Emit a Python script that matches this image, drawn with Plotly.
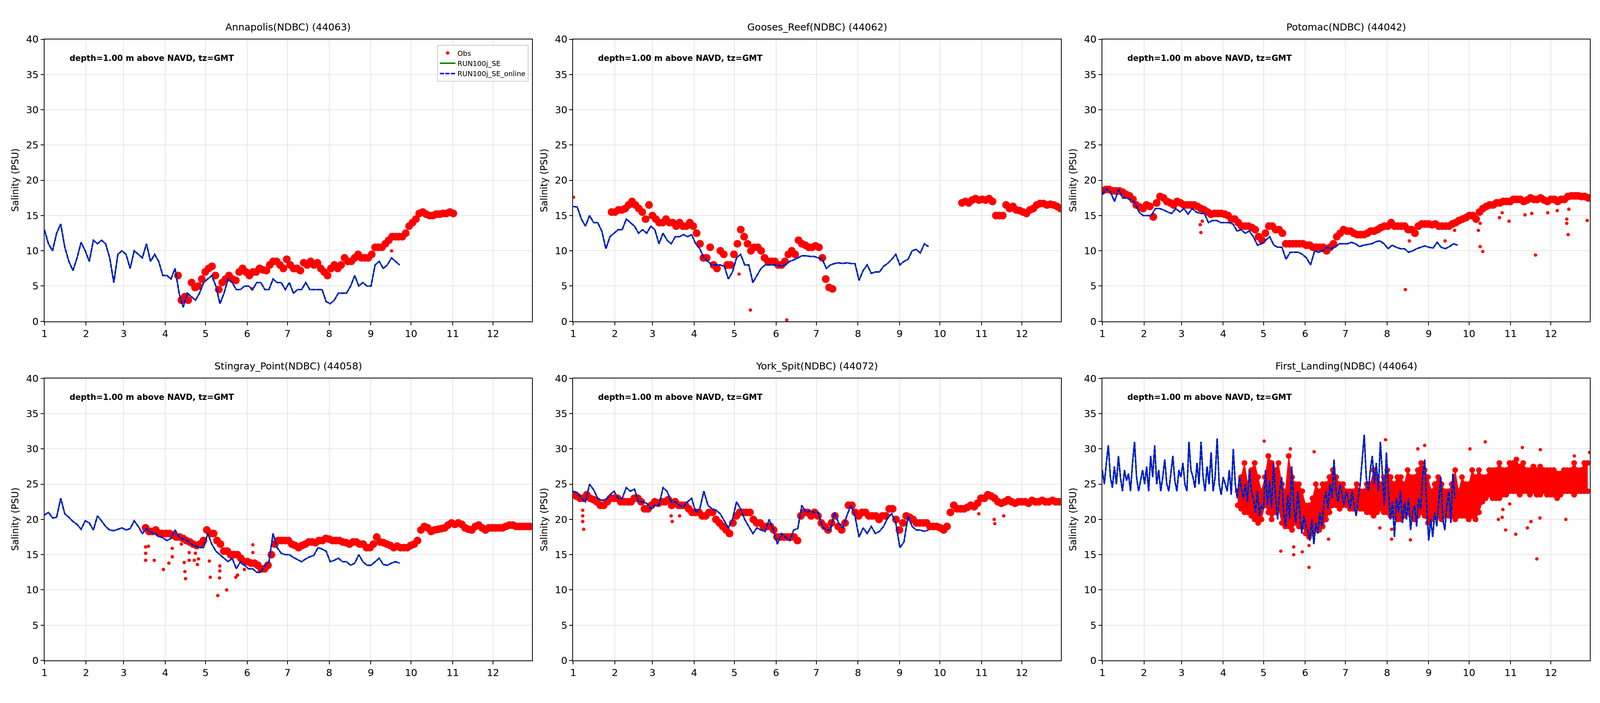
import pandas as pd
import plotly.graph_objects as go
from plotly.subplots import make_subplots

# time axis: day offsets from Jan 1, model every ~3 days, obs every ~2.5 days
YEAR_START = pd.Timestamp('2023-01-01')
MODEL_STEP = 3.04
OBS_STEP = 2.53

month_ticks = pd.date_range('2023-01-01', periods=12, freq='MS')
month_labels = [str(m) for m in range(1, 13)]

# ---------------- Annapolis(NDBC) (44063)
annapolis_se = [13.0, 11.0, 10.0, 12.5, 13.8, 10.5, 8.5, 7.2, 9.0, 11.2, 10.0,
                8.5, 11.5, 11.0, 11.5, 11.0, 9.0, 5.5, 9.5, 10.0,
                9.5, 7.5, 10.0, 9.5, 9.0, 11.0, 8.5, 9.5, 8.5, 6.5,
                6.5, 6.0, 7.5, 4.0, 2.0, 4.0, 3.5, 3.0, 4.0, 5.5,
                6.0, 6.5, 5.0, 2.5, 4.0, 6.0, 5.5, 4.5, 4.5, 5.0,
                5.0, 4.5, 5.5, 5.5, 4.5, 4.5, 6.0, 5.5, 5.5, 4.5,
                5.5, 4.0, 4.5, 4.5, 5.5, 4.5, 4.5, 4.5, 4.5, 2.8,
                2.5, 3.0, 4.0, 4.0, 4.0, 5.0, 6.5, 5.0, 5.5, 5.0,
                5.0, 8.0, 8.5, 7.5, 8.0, 9.0, 8.5, 8.0]
annapolis_online = annapolis_se  # both runs overlap at this scale
annapolis_obs_start = 99.5
annapolis_obs = [6.5, 3.0, 3.5, 3.0, 5.5, 4.8, 5.0, 6.0, 7.0, 7.5,
                 7.8, 6.5, 4.5, 5.5, 6.0, 6.5, 6.0, 5.8, 7.0, 7.5,
                 7.0, 6.5, 7.0, 7.0, 7.5, 7.3, 7.2, 8.0, 8.5, 8.5,
                 8.0, 7.5, 8.8, 8.0, 7.5, 7.5, 7.2, 8.3, 8.0, 8.5,
                 8.0, 8.3, 7.5, 7.0, 6.5, 7.5, 8.0, 7.5, 8.0, 9.0,
                 8.5, 8.5, 9.0, 9.5, 9.0, 9.0, 9.0, 9.5, 10.5, 10.5,
                 10.5, 11.0, 11.5, 12.0, 12.0, 12.0, 12.0, 12.5, 13.5, 14.0,
                 14.5, 15.3, 15.5, 15.2, 15.0, 15.0, 15.2, 15.2, 15.3, 15.3,
                 15.5, 15.3]
annapolis_out_day = [154.7, 258.5]
annapolis_out_val = [4.6, 10.0]

# ---------------- Gooses_Reef(NDBC) (44062)
gooses_se = [16.3, 16.2, 14.5, 13.5, 15.0, 14.0, 14.0, 12.8, 10.3, 12.0, 12.5,
             13.0, 13.0, 14.5, 14.0, 13.5, 12.5, 13.0, 12.5, 13.5,
             13.0, 11.0, 12.5, 11.5, 11.0, 12.0, 12.0, 12.3, 12.0, 12.3,
             11.0, 10.3, 9.0, 8.5, 8.0, 8.0, 8.0, 7.8, 6.0, 7.0,
             9.0, 9.5, 8.0, 8.0, 5.5, 6.5, 7.5, 8.0, 8.0, 8.0,
             8.0, 7.8, 8.0, 8.5, 8.7, 9.0, 9.3, 9.3, 9.2, 9.2,
             9.0, 8.8, 7.5, 8.0, 8.2, 8.3, 8.2, 8.3, 8.2, 8.2,
             5.8, 7.2, 8.0, 6.8, 7.0, 7.0, 7.8, 8.2, 8.8, 9.5,
             8.0, 8.5, 8.8, 10.0, 10.2, 9.7, 11.0, 10.6]
gooses_online = gooses_se
gooses_obs_a_start = 28.6
gooses_obs_a = [15.5, 15.5, 15.8, 15.8, 16.0, 16.5, 17.0, 16.5, 16.0, 15.5,
                14.5, 16.5, 15.0, 14.5, 14.0, 14.0, 14.5, 14.0, 14.0, 13.5,
                14.0, 13.5, 13.5, 14.0, 13.5, 12.5, 11.0, 9.0, 9.0, 10.5,
                8.0, 7.5, 10.0, 9.5, 8.0, 8.0, 9.5, 11.0, 13.0, 12.0,
                11.0, 10.0, 10.5, 10.5, 10.0, 9.0, 8.5, 8.5, 8.5, 8.0,
                8.0, 8.5, 9.5, 10.0, 9.5, 11.5, 11.0, 10.8, 10.5, 10.5,
                10.7, 10.5, 9.0, 6.0, 4.8, 4.6]
gooses_obs_b_start = 289.4
gooses_obs_b = [16.8, 17.0, 16.8, 17.2, 17.4, 17.2, 17.3, 17.2, 17.4, 17.0,
                15.0, 15.0, 15.0, 16.5, 16.0, 16.3, 15.8, 15.7, 15.5, 15.3,
                15.8, 16.0, 16.5, 16.7, 16.7, 16.5, 16.6, 16.5, 16.3, 16.0]
gooses_out_day = [0.2, 123.5, 131.9, 159.0]
gooses_out_val = [17.6, 6.7, 1.6, 0.2]

# ---------------- Potomac(NDBC) (44042)
potomac_se = [18.0, 18.8, 18.3, 17.0, 18.7, 17.5, 17.5, 17.2, 16.8, 15.5, 15.0,
              15.0, 15.0, 16.0, 16.0, 15.8, 15.5, 15.3, 16.0, 15.5,
              16.0, 15.2, 16.0, 15.5, 15.3, 15.3, 14.0, 14.3, 14.3, 14.0,
              14.0, 14.0, 13.8, 12.8, 13.0, 12.5, 12.8, 12.0, 10.8, 11.0,
              11.5, 12.0, 10.8, 10.5, 10.5, 8.8, 9.8, 9.8, 9.8, 9.5,
              9.0, 8.0, 10.0, 9.8, 10.0, 10.5, 10.3, 10.5, 11.0, 11.0,
              11.0, 11.2, 11.0, 10.6, 10.8, 10.9, 11.0, 11.3, 11.4, 11.0,
              10.3, 10.8, 10.5, 10.3, 10.3, 9.8, 10.0, 10.3, 10.5, 10.7,
              10.5, 10.4, 11.2, 10.5, 10.3, 10.6, 11.0, 10.8]
potomac_online = potomac_se
potomac_obs_start = 0.0
potomac_obs = [18.5, 18.7, 18.7, 18.5, 18.5, 18.5, 18.3, 18.0, 17.8, 17.3,
               16.5, 16.2, 16.0, 16.5, 16.3, 14.8, 16.8, 17.7, 17.5, 17.0,
               16.8, 16.5, 17.0, 16.8, 16.5, 16.5, 16.5, 16.5, 16.3, 16.0,
               15.8, 15.5, 15.2, 15.3, 15.3, 15.3, 15.2, 15.0, 14.5, 14.5,
               14.0, 13.5, 13.5, 13.5, 13.3, 13.0, 12.0, 11.5, 12.5, 13.5,
               13.5, 13.0, 13.0, 12.5, 11.0, 11.0, 11.0, 11.0, 11.0, 11.0,
               10.8, 10.8, 10.5, 10.5, 10.5, 10.5, 10.0, 10.5, 11.0, 12.0,
               12.5, 13.0, 12.8, 12.8, 12.5, 12.3, 12.3, 12.3, 12.5, 12.8,
               12.8, 13.0, 13.3, 13.5, 13.5, 14.0, 13.5, 13.5, 13.5, 13.5,
               13.0, 13.0, 12.5, 13.5, 13.8, 13.8, 13.8, 13.7, 13.8, 13.5,
               13.5, 13.5, 13.5, 13.8, 14.0, 14.3, 14.5, 14.7, 15.0, 15.0,
               14.5, 15.5, 16.0, 16.3, 16.5, 16.5, 16.8, 16.8, 17.0, 17.0,
               17.0, 17.3, 17.3, 17.3, 17.0, 17.2, 17.5, 17.3, 17.3, 17.5,
               17.2, 17.0, 17.3, 17.3, 17.0, 17.3, 17.3, 17.7, 17.8, 17.8,
               17.8, 17.7, 17.7, 17.5]
potomac_out_day = [72.9, 73.4, 74.4, 225.6, 228.6, 255.2, 262.3, 280.0, 281.3, 281.3,
                   283.3, 295.7, 297.7, 302.8, 314.7, 319.7, 322.5, 331.6, 338.7,
                   345.8, 345.8, 346.8, 347.3, 361.0]
potomac_out_val = [13.7, 12.6, 14.2, 4.5, 11.4, 11.4, 12.9, 12.9, 13.9, 10.6,
                   9.9, 14.7, 15.4, 14.2, 15.1, 15.3, 9.4, 15.4, 15.7,
                   14.5, 13.9, 12.3, 15.9, 14.3]

# ---------------- Stingray_Point(NDBC) (44058)
stingray_se = [20.6, 21.0, 20.2, 20.3, 23.0, 20.8, 20.3, 19.7, 19.3, 18.6, 19.8,
               19.5, 18.5, 20.5, 19.8, 19.0, 18.5, 18.4, 18.6, 18.8,
               18.5, 18.7, 19.8, 19.0, 18.0, 18.7, 18.2, 18.0, 17.6, 17.4,
               17.0, 17.3, 18.5, 17.5, 17.2, 17.0, 16.5, 16.2, 16.0, 16.0,
               18.0, 16.5, 15.5, 15.0, 14.5, 14.0, 14.5, 13.0, 14.0, 13.5,
               13.0, 13.0, 12.5, 12.5, 13.5, 14.0, 18.0, 16.0, 15.2, 15.0,
               15.0, 14.6, 14.3, 14.0, 14.4, 14.7, 14.9, 16.0, 15.8, 15.5,
               14.0, 14.2, 14.5, 14.0, 14.0, 13.5, 13.8, 15.0, 14.0, 13.5,
               13.5, 14.0, 14.5, 13.6, 13.5, 13.8, 14.0, 13.8]
stingray_online = stingray_se
stingray_obs_start = 75.4
stingray_obs = [18.8, 18.3, 18.3, 18.5, 18.0, 18.0, 18.0, 18.0, 17.8, 17.5,
                17.5, 17.3, 17.0, 16.8, 16.5, 16.3, 16.5, 17.0, 18.5, 18.0,
                18.0, 17.0, 16.5, 15.5, 15.5, 15.0, 15.0, 15.0, 14.5, 14.0,
                14.0, 13.8, 13.8, 13.5, 13.0, 13.0, 13.5, 15.0, 16.5, 17.0,
                17.0, 17.0, 17.0, 16.5, 16.3, 16.0, 16.3, 16.5, 16.8, 16.8,
                16.7, 17.0, 17.0, 17.3, 17.2, 17.0, 17.0, 17.0, 16.8, 16.7,
                16.5, 16.8, 16.8, 16.5, 16.5, 16.0, 16.0, 16.5, 17.5, 16.8,
                16.7, 16.5, 16.3, 16.0, 16.2, 16.0, 16.0, 16.0, 16.3, 16.5,
                17.0, 18.5, 19.0, 18.8, 18.3, 18.5, 18.6, 18.7, 18.8, 19.2,
                19.5, 19.3, 19.5, 19.3, 18.8, 18.6, 18.5, 19.0, 19.2, 18.8,
                18.5, 18.8, 18.8, 18.8, 18.8, 18.8, 19.0, 19.2, 19.2, 19.0,
                19.0, 19.0, 19.0, 19.0]
stingray_out_day = [75.4, 75.4, 75.4, 77.5, 81.8, 88.6, 92.7, 95.2, 95.2, 102.0,
                    104.1, 104.6, 105.1, 107.8, 107.8, 111.6, 112.4, 113.9, 114.7, 122.8,
                    123.5, 129.1, 130.6, 130.6, 130.4, 135.7, 142.5, 143.8, 148.9, 155.2,
                    155.2]
stingray_out_val = [16.1, 15.2, 14.2, 16.2, 14.2, 12.9, 13.8, 15.9, 14.7, 16.5,
                    13.9, 12.6, 11.6, 14.2, 15.3, 14.2, 15.2, 13.6, 14.4, 14.1,
                    11.8, 9.2, 12.7, 13.4, 11.7, 10.0, 11.8, 12.1, 12.9, 16.4,
                    15.3]

# ---------------- York_Spit(NDBC) (44072)
york_se = [24.0, 23.8, 23.0, 22.5, 25.0, 24.2, 23.0, 22.7, 22.8, 23.5, 24.0,
           23.0, 23.0, 24.5, 24.0, 24.3, 22.5, 22.5, 22.3, 21.5,
           22.0, 22.0, 24.5, 24.0, 22.5, 22.5, 22.0, 21.8, 22.5, 23.0,
           21.0, 21.5, 24.0, 22.0, 21.5, 21.3, 20.8, 19.8, 18.8, 20.0,
           22.5, 21.5, 20.0, 19.0, 18.0, 18.8, 18.5, 18.3, 20.0, 18.5,
           16.5, 18.0, 17.5, 17.0, 18.5, 18.7, 22.0, 21.0, 21.2, 21.0,
           21.0, 19.0, 18.5, 18.5, 21.0, 19.5, 18.8, 20.5, 22.0, 20.5,
           17.5, 18.8, 18.0, 19.0, 18.0, 18.3, 19.0, 20.2, 20.8, 19.5,
           16.0, 16.8, 20.5, 19.0, 18.5, 18.5, 18.3, 18.5]
york_online = york_se
york_obs_start = 0.0
york_obs = [23.5, 23.3, 23.0, 23.0, 23.5, 23.0, 22.8, 22.5, 22.0, 22.0,
            22.5, 23.0, 23.0, 23.0, 22.5, 22.5, 22.5, 22.5, 23.0, 23.0,
            22.5, 21.5, 21.5, 22.0, 22.5, 22.3, 22.5, 22.5, 22.8, 22.0,
            22.5, 22.0, 22.0, 22.0, 21.5, 21.0, 21.0, 21.0, 20.5, 20.5,
            21.0, 21.0, 20.0, 19.5, 19.0, 18.5, 18.0, 19.5, 20.5, 21.0,
            21.0, 21.0, 21.0, 20.0, 19.5, 19.5, 19.0, 19.0, 19.0, 18.5,
            17.5, 17.5, 17.5, 17.5, 17.5, 17.5, 17.0, 20.5, 21.0, 21.0,
            20.5, 21.0, 20.5, 19.5, 19.0, 18.5, 19.5, 20.5, 19.0, 18.5,
            19.5, 22.0, 22.0, 21.0, 20.5, 21.0, 21.0, 20.5, 20.5, 20.5,
            20.0, 20.5, 20.5, 21.5, 21.5, 20.0, 18.5, 19.5, 20.5, 20.3,
            20.0, 19.5, 19.5, 19.5, 19.5, 19.0, 19.0, 19.0, 18.8, 18.5,
            19.0, 21.0, 22.0, 21.5, 21.5, 21.5, 21.7, 22.0, 21.8, 22.3,
            23.0, 23.0, 23.5, 23.3, 23.0, 22.5, 22.3, 22.5, 22.8, 22.5,
            22.3, 22.5, 22.5, 22.5, 22.3, 22.7, 22.5, 22.5, 22.7, 22.5,
            22.5, 22.7, 22.5, 22.5]
york_out_day = [7.1, 7.1, 7.1, 7.8, 72.9, 73.7, 79.2, 302.0, 313.4, 313.9, 320.5]
york_out_val = [21.3, 20.5, 19.7, 18.6, 20.5, 19.7, 20.5, 20.8, 20.0, 19.4, 20.5]

# ---------------- First_Landing(NDBC) (44064), model read every 1.5 days
LANDING_STEP = 1.5
landing_se = [27.0, 25.0, 28.0, 30.5, 26.0, 24.5, 27.5, 25.0, 29.0, 26.0, 24.0,
              27.0, 25.5, 26.5, 24.0, 28.0, 31.0, 26.0, 24.0, 25.5, 27.0,
              25.0, 27.5, 24.0, 29.0, 26.0, 30.5, 25.0, 27.0, 24.0, 26.0,
              28.5, 25.0, 24.0, 26.5, 29.0, 25.5, 24.0, 27.0, 26.0,
              28.0, 25.0, 24.0, 31.0, 27.0, 26.0, 24.5, 28.0, 25.0, 31.0, 26.0,
              24.0, 27.5, 25.0, 29.5, 24.0, 26.0, 31.5, 25.0, 23.5, 26.0,
              25.0, 24.0, 27.0, 23.5, 30.0, 25.0, 23.0, 26.0, 24.5, 23.0,
              25.0, 22.5, 27.0, 24.0, 23.0, 21.0, 24.0, 20.5, 22.0, 21.5,
              27.0, 22.0, 25.5, 21.5, 28.0, 23.0, 20.0, 24.0, 26.0, 21.0, 19.0,
              23.5, 20.0, 27.5, 22.0, 19.5, 24.0, 21.0, 18.0, 20.5, 19.0,
              18.5, 17.0, 20.0, 16.5, 19.5, 18.0, 21.0, 19.0, 22.5, 24.0,
              21.5, 25.0, 23.0, 28.5, 24.0, 22.5, 25.0, 23.5, 22.0, 24.0,
              23.0, 21.5, 24.0, 22.0, 20.5, 23.0, 25.0, 28.5, 32.0, 26.0, 24.0,
              27.0, 29.0, 25.0, 28.0, 24.0, 31.0, 26.5, 22.0, 29.5, 24.0,
              20.0, 22.5, 17.5, 23.0, 21.0, 24.0, 19.5, 22.5, 20.0, 23.0, 18.5,
              21.0, 22.0, 19.0, 23.0, 21.5, 26.0, 28.5, 22.0, 17.0, 20.0,
              17.5, 21.0, 19.0, 22.5, 26.0, 20.0, 18.5, 22.0, 24.0, 19.5, 26.5, 23.0]
landing_online = landing_se
landing_obs_start = 100.8
landing_obs_lo = [22.0, 21.5, 21.0, 21.0, 20.5, 20.0, 19.5, 20.0,
                  22.0, 21.0, 20.0, 21.0, 21.5, 19.5, 19.0, 19.0, 18.5, 19.5, 19.0, 19.0,
                  18.0, 17.5, 18.0, 18.5, 18.5, 19.0, 20.0, 21.0, 22.0, 22.0, 21.5, 22.0,
                  22.0, 21.5, 21.5, 22.0, 21.5, 21.5, 21.0, 21.0, 20.5, 21.0, 21.5, 21.0,
                  21.0, 20.5, 20.5, 20.0, 20.0, 20.5, 21.0, 20.5, 20.0, 20.5, 21.0, 20.5,
                  19.5, 20.0, 20.5, 20.5, 20.0, 20.5, 20.5, 20.5, 20.0, 20.5, 20.5, 20.5,
                  20.0, 20.5, 20.0, 21.0, 22.5, 23.0, 23.5, 23.0, 23.0, 23.0, 23.5, 23.5,
                  24.0, 24.0, 24.0, 23.5, 24.0, 24.0, 23.5, 24.0, 23.5, 23.5, 24.0, 23.5,
                  23.5, 23.5, 23.0, 23.5, 24.0, 24.0, 24.0, 23.5, 24.0, 24.0, 24.0, 24.0]
landing_obs_hi = [24.0, 26.0, 28.0, 25.0, 27.0, 28.0, 26.0, 24.0,
                  26.0, 29.0, 28.0, 27.0, 28.0, 25.0, 24.0, 29.0, 26.0, 25.0, 25.0, 24.0,
                  22.0, 22.0, 23.0, 25.0, 24.0, 25.0, 25.0, 26.0, 27.0, 26.0, 25.0, 25.0,
                  24.0, 24.0, 24.0, 25.0, 24.0, 24.0, 25.0, 25.0, 27.0, 26.0, 25.0, 26.0,
                  27.0, 26.0, 25.0, 26.0, 26.0, 25.0, 27.0, 26.0, 26.0, 27.0, 28.0, 27.0,
                  26.0, 24.0, 25.0, 26.0, 25.0, 24.0, 24.0, 25.0, 27.0, 24.0, 26.0, 25.0,
                  25.0, 27.0, 26.0, 27.0, 26.0, 26.0, 27.0, 27.0, 27.0, 28.0, 27.0, 27.0,
                  28.0, 28.0, 28.5, 27.5, 28.0, 27.0, 27.0, 27.5, 27.0, 27.5, 27.0, 27.0,
                  27.0, 27.0, 26.5, 26.5, 27.0, 27.0, 27.0, 28.0, 27.0, 27.0, 28.0, 28.0]
landing_out_day = [132.9, 142.5, 142.5, 148.9, 153.9, 153.9, 168.4, 206.6, 215.4, 215.4,
                   229.4, 294.9, 297.7, 298.2, 300.3, 303.3, 307.8, 316.5, 319.2, 323.5,
                   325.8, 345.1, 120.5, 140.0, 157.7, 210.9, 234.9, 240.0, 273.7, 285.1,
                   312.7, 326.1, 351.4, 362.8]
landing_out_val = [15.5, 16.1, 15.0, 15.4, 13.2, 16.3, 17.2, 18.8, 18.6, 17.2,
                   17.1, 20.0, 20.3, 21.4, 18.5, 22.2, 17.9, 18.8, 19.7, 14.4,
                   20.2, 20.0, 31.1, 30.0, 29.6, 31.3, 30.0, 30.5, 30.0, 31.0,
                   30.2, 29.9, 29.0, 29.5]

panels = [
    dict(title='Annapolis(NDBC) (44063)', se=annapolis_se, online=annapolis_online, step=MODEL_STEP,
         obs=[(annapolis_obs_start, annapolis_obs)], band=None,
         out=(annapolis_out_day, annapolis_out_val)),
    dict(title='Gooses_Reef(NDBC) (44062)', se=gooses_se, online=gooses_online, step=MODEL_STEP,
         obs=[(gooses_obs_a_start, gooses_obs_a), (gooses_obs_b_start, gooses_obs_b)], band=None,
         out=(gooses_out_day, gooses_out_val)),
    dict(title='Potomac(NDBC) (44042)', se=potomac_se, online=potomac_online, step=MODEL_STEP,
         obs=[(potomac_obs_start, potomac_obs)], band=None,
         out=(potomac_out_day, potomac_out_val)),
    dict(title='Stingray_Point(NDBC) (44058)', se=stingray_se, online=stingray_online, step=MODEL_STEP,
         obs=[(stingray_obs_start, stingray_obs)], band=None,
         out=(stingray_out_day, stingray_out_val)),
    dict(title='York_Spit(NDBC) (44072)', se=york_se, online=york_online, step=MODEL_STEP,
         obs=[(york_obs_start, york_obs)], band=None,
         out=(york_out_day, york_out_val)),
    dict(title='First_Landing(NDBC) (44064)', se=landing_se, online=landing_online, step=LANDING_STEP,
         obs=[], band=(landing_obs_start, landing_obs_lo, landing_obs_hi),
         out=(landing_out_day, landing_out_val)),
]


def series_dates(start_day, n, step):
    return [YEAR_START + pd.Timedelta(days=start_day + i * step) for i in range(n)]


def day_dates(days):
    return [YEAR_START + pd.Timedelta(days=d) for d in days]


# positions measured on the 6000x1800 target; the page shows at 1.5x, so
# pixel sizes are scaled by S while positions stay as fractions of the page
S = 2.0 / 3.0
W, H = 6000.0, 1800.0
col_left = [155, 2142, 4130]
col_width = 1832
row_top = [88, 970.5]
row_height = 734

FONT = 'DejaVu Sans'
RED, GREEN, BLUE = '#ff0000', '#008000', '#0000ff'

fig = make_subplots(rows=2, cols=3)

for i, p in enumerate(panels):
    r, c = i // 3 + 1, i % 3 + 1
    first = i == 0

    for start, vals in p['obs']:
        fig.add_trace(go.Scatter(x=series_dates(start, len(vals), OBS_STEP), y=vals, mode='markers',
                                 marker=dict(color=RED, size=30 * S), showlegend=False, hoverinfo='skip'),
                      row=r, col=c)
    if p['band']:
        start, lo, hi = p['band']
        xs = series_dates(start, len(lo), OBS_STEP)
        fig.add_trace(go.Scatter(x=xs, y=lo, mode='lines+markers', line=dict(color=RED, width=2 * S),
                                 marker=dict(color=RED, size=22 * S), showlegend=False, hoverinfo='skip'),
                      row=r, col=c)
        fig.add_trace(go.Scatter(x=xs, y=hi, mode='lines+markers', line=dict(color=RED, width=2 * S),
                                 marker=dict(color=RED, size=22 * S), fill='tonexty', fillcolor=RED,
                                 showlegend=False, hoverinfo='skip'),
                      row=r, col=c)

    od, ov = p['out']
    fig.add_trace(go.Scatter(x=day_dates(od), y=ov, mode='markers', name='Obs',
                             marker=dict(color=RED, size=13 * S), showlegend=first, legendgroup='obs'),
                  row=r, col=c)

    mx = series_dates(0, len(p['se']), p['step'])
    fig.add_trace(go.Scatter(x=mx, y=p['se'], mode='lines', name='RUN100j_SE',
                             line=dict(color=GREEN, width=5.5 * S), showlegend=first, legendgroup='se'),
                  row=r, col=c)
    fig.add_trace(go.Scatter(x=mx, y=p['online'], mode='lines', name='RUN100j_SE_online',
                             line=dict(color=BLUE, width=5.5 * S, dash='11px,3px'),
                             showlegend=first, legendgroup='online'),
                  row=r, col=c)

    x0 = col_left[c - 1]
    y0 = row_top[r - 1]
    fig.update_xaxes(domain=[x0 / W, (x0 + col_width) / W],
                     type='date', range=['2023-01-01', '2023-12-30'],
                     tickvals=month_ticks, ticktext=month_labels,
                     row=r, col=c)
    fig.update_yaxes(domain=[1 - (y0 + row_height) / H, 1 - y0 / H],
                     range=[0, 40], tickvals=list(range(0, 41, 5)),
                     row=r, col=c)

    # subplot title
    fig.add_annotation(text=p['title'], xref='paper', yref='paper',
                       x=(x0 + col_width / 2) / W, y=1 - (y0 - 32) / H,
                       xanchor='center', yanchor='middle', showarrow=False,
                       font=dict(family=FONT, size=37.5 * S, color='black'))
    # y label
    fig.add_annotation(text='Salinity (PSU)', xref='paper', yref='paper',
                       x=(x0 - 110) / W, y=1 - (y0 + row_height / 2) / H,
                       xanchor='center', yanchor='middle', textangle=-90, showarrow=False,
                       font=dict(family=FONT, size=36 * S, color='black'))
    # depth note
    fig.add_annotation(text='<b>depth=1.00 m above NAVD, tz=GMT</b>', xref='paper', yref='paper',
                       x=(x0 + 91) / W, y=1 - (y0 + 49) / H,
                       xanchor='left', yanchor='middle', showarrow=False,
                       font=dict(family=FONT, size=31 * S, color='black'))

axis_style = dict(showline=True, linecolor='black', linewidth=3 * S, mirror=True,
                  ticks='outside', ticklen=12 * S, tickwidth=3 * S, tickcolor='black',
                  showgrid=True, gridcolor='#e6e6e6', gridwidth=3 * S, zeroline=False,
                  tickfont=dict(family=FONT, size=37.5 * S, color='black'))
fig.update_xaxes(**axis_style)
fig.update_yaxes(**axis_style)

fig.update_layout(
    autosize=True,
    margin=dict(l=0, r=0, t=0, b=0),
    paper_bgcolor='white', plot_bgcolor='white',
    font=dict(family=FONT, color='black'),
    legend=dict(x=1974 / W, y=1 - 103 / H, xanchor='right', yanchor='top',
                bgcolor='white', bordercolor='#cccccc', borderwidth=3 * S,
                font=dict(family=FONT, size=27 * S, color='black'),
                itemwidth=40, traceorder='normal'),
)

# fill the whole window, no modebar
fig.write_html('out.html', config={'responsive': True, 'displayModeBar': False},
               default_width='100vw', default_height='100vh',
               post_script="document.body.style.margin='0';document.body.style.overflow='hidden';")
